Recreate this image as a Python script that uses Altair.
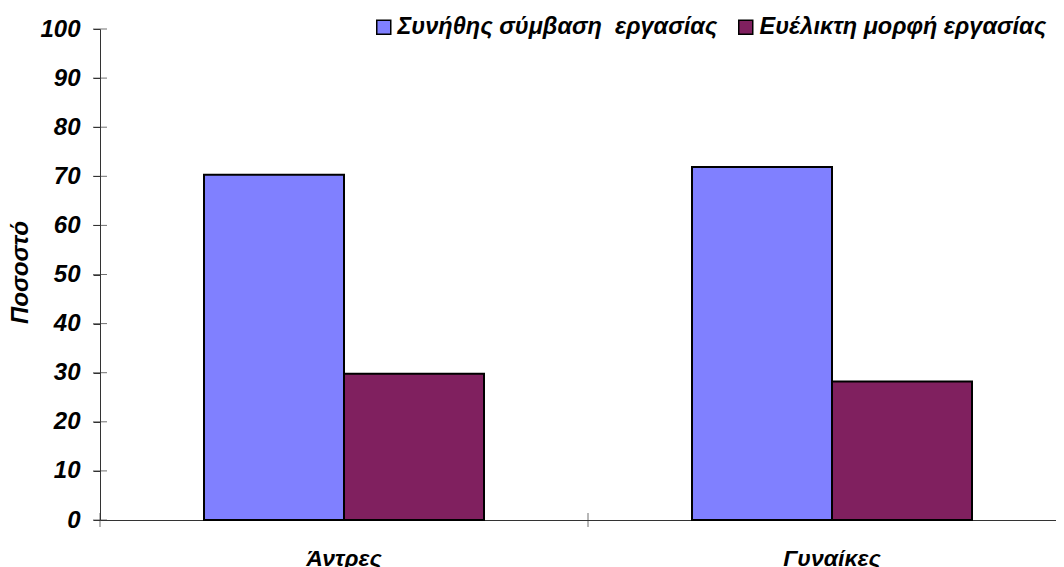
import altair as alt
import pandas as pd

categories = ["Άντρες", "Γυναίκες"]
series = ["Συνήθης σύμβαση\u00a0 εργασίας", "Ευέλικτη μορφή εργασίας"]
standard_values = [70.3, 71.9]
flexible_values = [29.8, 28.2]
y_ticks = [0, 10, 20, 30, 40, 50, 60, 70, 80, 90, 100]
colors = ["#8080FF", "#80205F"]

rows = []
for i, c in enumerate(categories):
    rows.append({"cat": c, "series": series[0], "value": standard_values[i]})
    rows.append({"cat": c, "series": series[1], "value": flexible_values[i]})
df = pd.DataFrame(rows)
ticks_df = pd.DataFrame({"value": y_ticks})
cat_df = pd.DataFrame({"cat": categories})

font = "Liberation Sans"
fs = 24
axis_col = "#333333"
y_scale = alt.Scale(domain=[0, 100], nice=False)
x_scale = alt.Scale(domain=categories, paddingInner=0.08197, paddingOuter=0.0205, align=1)
y_axis = alt.Axis(values=y_ticks, title="Ποσοστό", tickSize=7, labelPadding=13,
                  labelFont=font, labelFontSize=fs, labelFontWeight="bold",
                  labelFontStyle="italic", labelColor="black",
                  domainColor=axis_col, tickColor=axis_col, grid=False,
                  titleFont=font, titleFontSize=24, titleFontWeight="bold",
                  titleFontStyle="italic", titleColor="black",
                  titleX=-80, titleY=243, titleBaseline="middle", titleAngle=270)
x_axis = alt.Axis(title=None, labelAngle=0, tickSize=7, tickOpacity=0,
                  labelPadding=20, labelFont=font, labelFontSize=23,
                  labelFontWeight="bold", labelFontStyle="italic",
                  labelColor="black", domainColor=axis_col)

bars = alt.Chart(df).mark_bar(stroke="black", strokeWidth=2).encode(
    x=alt.X("cat:N", sort=categories, scale=x_scale, axis=x_axis),
    xOffset=alt.XOffset("series:N", sort=series,
                        scale=alt.Scale(paddingInner=0, paddingOuter=0.6)),
    y=alt.Y("value:Q", scale=y_scale, axis=y_axis),
    color=alt.Color(
        "series:N", sort=series,
        scale=alt.Scale(domain=series, range=colors),
        legend=alt.Legend(title=None, orient="none", legendX=272, legendY=-14,
                          direction="horizontal", symbolType="square", symbolSize=196,
                          symbolStrokeColor="black", symbolStrokeWidth=1.5,
                          labelFont=font, labelFontSize=23.5, labelFontWeight="bold",
                          labelFontStyle="italic", labelColor="black",
                          labelOffset=2, columnPadding=16, labelLimit=0),
    ),
)

y_ticks_layer = alt.Chart(ticks_df).mark_tick(color=axis_col, size=14, thickness=1).encode(
    y=alt.Y("value:Q", scale=y_scale, axis=y_axis),
    x=alt.value(0),
)

# category boundary ticks crossing the x axis (at the start of each category interval)
x_ticks_layer = alt.Chart(cat_df).mark_tick(
    color=axis_col, size=14, thickness=1, orient="vertical", xOffset=-20
).encode(
    x=alt.X("cat:N", sort=categories, scale=x_scale, axis=x_axis, bandPosition=0),
    y=alt.value(491),
)

chart = alt.layer(bars, y_ticks_layer, x_ticks_layer).properties(
    width=956, height=491,
    autosize=alt.AutoSizeParams(type="none"),
    padding={"left": 92, "top": 21, "right": 0, "bottom": 47},
).configure_view(strokeWidth=0)

chart.save("out.html", embed_options={"renderer": "svg", "actions": False})
